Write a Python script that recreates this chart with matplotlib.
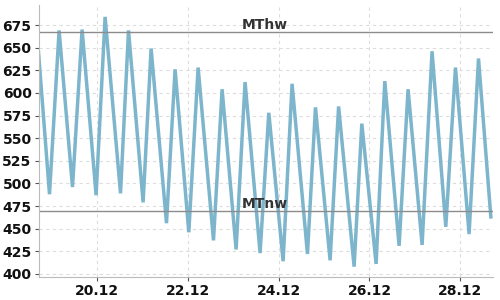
import matplotlib
matplotlib.use('Agg')
import numpy as np
import pandas as pd
import matplotlib.pyplot as plt
import matplotlib.dates as mdates

# tide extremes (high / low water)
times = [
    '2023-12-18 17:24', '2023-12-18 23:12', '2023-12-19 04:16', '2023-12-19 11:20',
    '2023-12-19 16:24', '2023-12-19 23:47', '2023-12-20 04:32', '2023-12-20 12:40',
    '2023-12-20 16:53', '2023-12-21 00:35', '2023-12-21 04:48', '2023-12-21 12:55',
    '2023-12-21 17:27', '2023-12-22 00:41', '2023-12-22 05:36', '2023-12-22 13:42',
    '2023-12-22 18:15', '2023-12-23 01:38', '2023-12-23 06:22', '2023-12-23 14:17',
    '2023-12-23 18:53', '2023-12-24 02:26', '2023-12-24 07:10', '2023-12-24 15:17',
    '2023-12-24 19:30', '2023-12-25 03:13', '2023-12-25 07:42', '2023-12-25 15:53',
    '2023-12-25 19:57', '2023-12-26 03:29', '2023-12-26 08:04', '2023-12-26 15:37',
    '2023-12-26 20:21', '2023-12-27 03:45', '2023-12-27 09:00', '2023-12-27 16:15',
    '2023-12-27 21:21', '2023-12-28 04:32', '2023-12-28 09:30', '2023-12-28 16:00',
]
levels = [
    645, 488, 669, 496, 670, 487, 684, 489, 669, 479,
    649, 456, 626, 446, 628, 437, 604, 427, 612, 423,
    578, 414, 610, 422, 584, 415, 585, 408, 566, 411,
    613, 431, 604, 432, 646, 452, 628, 444, 638, 463,
]
mthw = 667
mtnw = 469
x_start = '2023-12-18 17:24'
x_end = '2023-12-28 16:53'
label_time = '2023-12-23 17:00'

t = pd.to_datetime(times)

fig = plt.figure(figsize=(5, 3), dpi=100)
ax = fig.add_axes([0.077, 0.078, 0.908, 0.905])

ax.plot(t, levels, color='#7db5cd', lw=2.5, solid_joinstyle='miter')

ax.axhline(mthw, color='#8c8c8c', lw=1)
ax.axhline(mtnw, color='#8c8c8c', lw=1)
mid = pd.Timestamp(label_time)
ax.text(mid, mthw + 0.5, 'MThw', ha='center', va='bottom', fontsize=10,
        fontweight='bold', color='#333333')
ax.text(mid, mtnw + 0.5, 'MTnw', ha='center', va='bottom', fontsize=10,
        fontweight='bold', color='#333333')

ax.set_xlim(pd.Timestamp(x_start), pd.Timestamp(x_end))
ax.set_ylim(397, 697)
ax.set_yticks(np.arange(400, 676, 25))
ax.xaxis.set_major_locator(mdates.DayLocator(bymonthday=[20, 22, 24, 26, 28]))
ax.xaxis.set_major_formatter(mdates.DateFormatter('%d.%m'))

ax.grid(True, ls=(0, (3, 3)), color='#dddddd', lw=0.8)
ax.set_axisbelow(True)
for s in ['top', 'right']:
    ax.spines[s].set_visible(False)
for s in ['left', 'bottom']:
    ax.spines[s].set_color('#bbbbbb')
ax.tick_params(axis='both', length=3, color='#555555', labelsize=10, labelcolor='#111111', pad=2)
for lab in ax.get_xticklabels() + ax.get_yticklabels():
    lab.set_fontweight('bold')

fig.savefig('out.png', dpi=100)
